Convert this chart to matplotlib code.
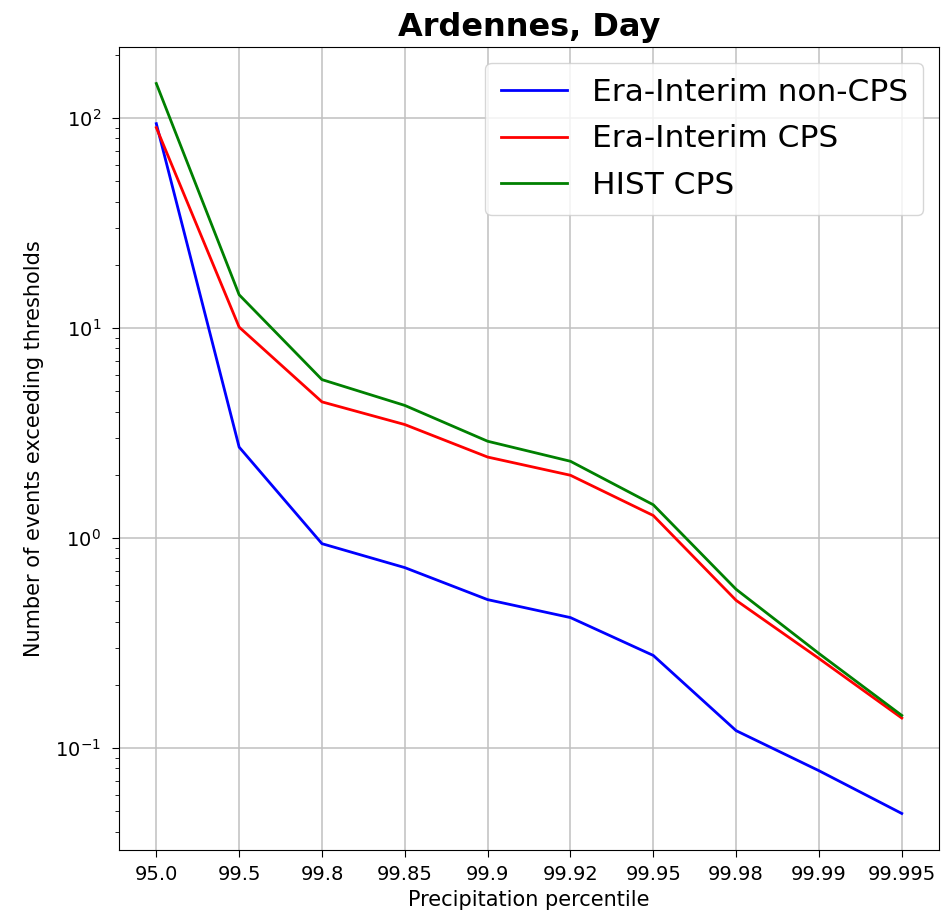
import matplotlib
matplotlib.use("Agg")
import matplotlib.pyplot as plt

# precipitation percentile thresholds (categorical x axis)
percentiles = ["95.0", "99.5", "99.8", "99.85", "99.9", "99.92", "99.95", "99.98", "99.99", "99.995"]

# number of events exceeding each threshold
era_noncps = [94, 2.71, 0.94, 0.723, 0.509, 0.418, 0.276, 0.121, 0.078, 0.0488]
era_cps = [90, 10.1, 4.45, 3.47, 2.43, 1.99, 1.28, 0.505, 0.267, 0.139]
hist_cps = [146, 14.4, 5.68, 4.28, 2.89, 2.32, 1.44, 0.570, 0.282, 0.143]

x = range(len(percentiles))

fig = plt.figure(figsize=(9.47, 9.18), dpi=100)
ax = fig.add_axes([0.1257, 0.0741, 0.8659, 0.8747])

ax.plot(x, era_noncps, color="b", lw=2, label="Era-Interim non-CPS")
ax.plot(x, era_cps, color="r", lw=2, label="Era-Interim CPS")
ax.plot(x, hist_cps, color="g", lw=2, label="HIST CPS")

ax.set_yscale("log")
ax.set_xticks(list(x))
ax.set_xticklabels(percentiles)
ax.tick_params(labelsize=14, length=5)
ax.tick_params(axis="x", pad=6)
ax.tick_params(axis="y", pad=8)
ax.tick_params(which="minor", length=3)
ax.grid(True, which="major", color="#c0c0c0", lw=1.1)

ax.set_xlabel("Precipitation percentile", fontsize=15)
ax.set_ylabel("Number of events exceeding thresholds", fontsize=15, labelpad=8)
ax.set_title("Ardennes, Day", fontsize=23, fontweight="bold", pad=8)
ax.legend(loc="upper right", fontsize=22.5, handlelength=2.1,
          borderpad=0.5, labelspacing=0.55)

fig.savefig("out.png", dpi=100)
